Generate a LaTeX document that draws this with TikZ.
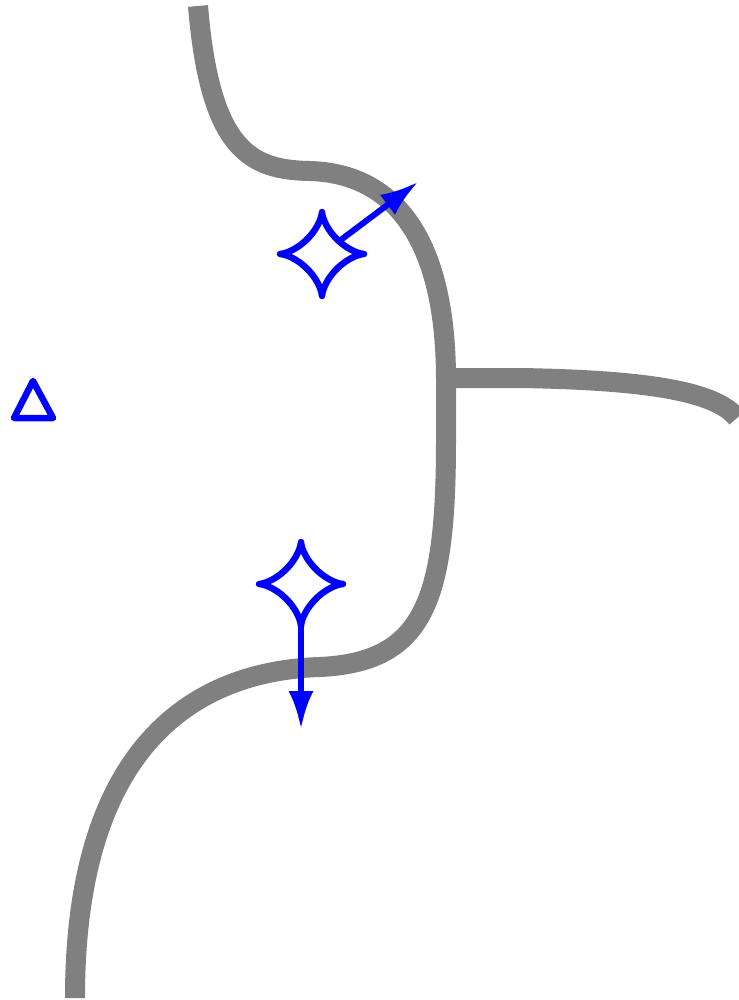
\documentclass[tikz,border=0pt]{standalone}
\usetikzlibrary{arrows.meta,calc}
\begin{document}
\begin{tikzpicture}[x=1pt,y=-1pt,
  wire/.style={draw=gray,line width=20pt},
  bl/.style={draw=blue,line width=6.5pt,line cap=round,line join=round},
  arr/.style={blue,line width=6pt,-{Latex[length=38pt,width=25pt]}}]
\useasboundingbox (0,0) rectangle (738,1000);
\draw[wire] (198,6) .. controls (210,150) and (250,170) .. (310,171)
  .. controls (380,173) and (446,220) .. (446,380) -- (446,440)
  .. controls (446,600) and (425,662) .. (320,667)
  .. controls (220,670) and (75,720) .. (75,998);
\draw[wire] (446,378) -- (520,378) .. controls (640,380) and (715,390) .. (737,418);
\coordinate (s1) at (322,254);
\coordinate (s2) at (301,584);
\coordinate (t1) at (418,182);
\coordinate (t2) at (301,729);
\draw[bl,shift={(s1)}] plot[domain=0:360,samples=120,smooth] ({42*cos(\x)*cos(\x)*cos(\x)},{42*sin(\x)*sin(\x)*sin(\x)}) -- cycle;
\draw[bl,shift={(s2)}] plot[domain=0:360,samples=120,smooth] ({42*cos(\x)*cos(\x)*cos(\x)},{42*sin(\x)*sin(\x)*sin(\x)}) -- cycle;
\draw[arr] ($(s1)!0.18!(t1)$) -- (t1);
\draw[arr] (301,625) -- (t2);
\coordinate (a) at (33,381);
\coordinate (b) at (14,418);
\coordinate (c) at (53,418);
\draw[bl] (a) -- (b) -- (c) -- cycle;
\end{tikzpicture}
\end{document}
